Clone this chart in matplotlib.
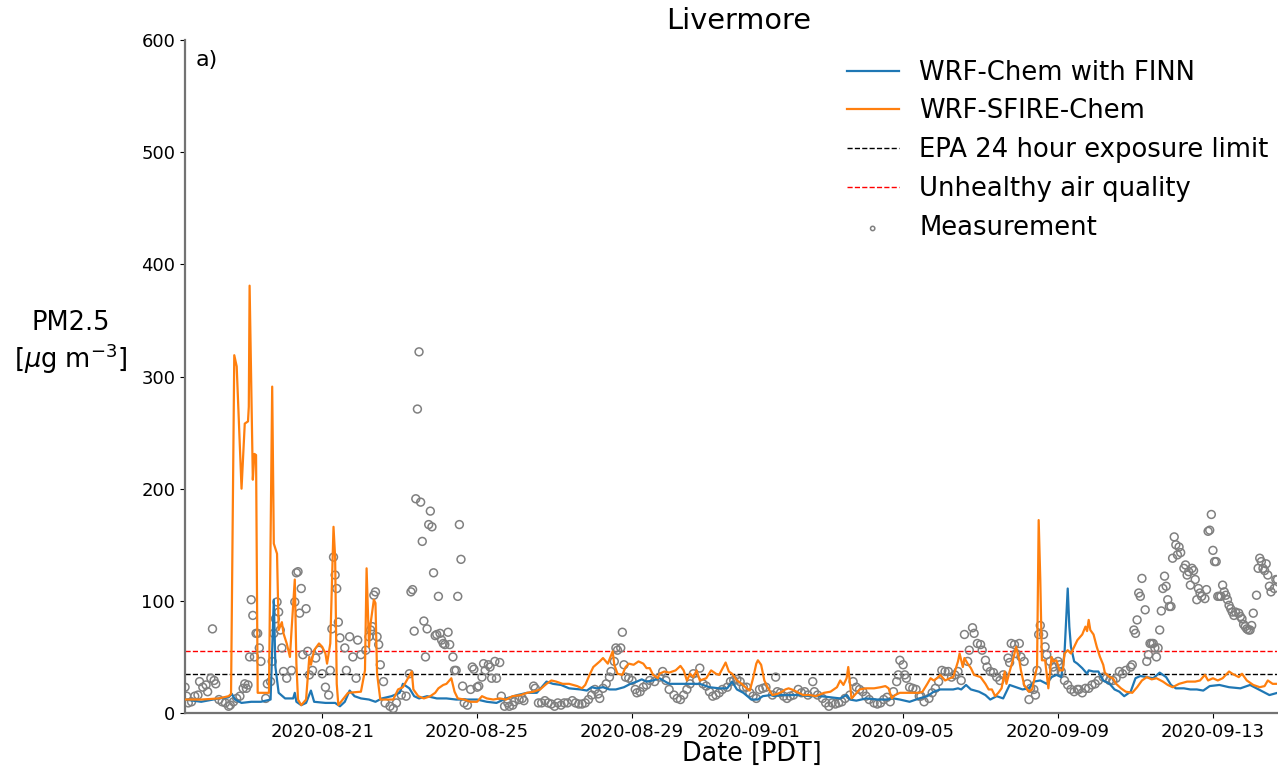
#!/usr/bin/env python3

import matplotlib
matplotlib.use('Agg')
import matplotlib.pyplot as plt
import matplotlib.dates as mdates
import numpy as np
import pandas as pd

# hours after 2020-08-17 11:00 PDT
start = pd.Timestamp('2020-08-17 11:00')
end = pd.Timestamp('2020-09-14 16:00')

finn_hours = [0, 10, 21, 27, 29, 31, 35, 41, 47, 53, 55, 56, 58, 62, 67, 68, 69, 72, 75, 78,
	80, 87, 93, 96, 99, 102, 105, 109, 114, 118, 122, 128, 133, 135, 139, 142, 145, 150, 156, 162,
	168, 175, 181, 187, 193, 199, 206, 212, 218, 224, 228, 233, 238, 245, 249, 252, 255, 259, 263, 267,
	272, 276, 280, 283, 286, 290, 294, 300, 307, 311, 315, 319, 325, 331, 336, 339, 342, 346, 351, 355,
	358, 363, 365, 369, 375, 381, 387, 394, 400, 406, 410, 412, 416, 422, 429, 435, 439, 443, 449, 455,
	460, 464, 468, 472, 476, 479, 481, 484, 487, 492, 496, 499, 503, 507, 511, 515, 519, 523, 526, 530,
	534, 537, 540, 543, 545, 547, 548, 549, 551, 553, 556, 559, 560, 563, 566, 569, 573, 576, 579, 582,
	586, 589, 592, 596, 600, 604, 608, 611, 614, 619, 623, 627, 631, 635, 641, 647, 654, 660, 664, 668,
	672, 677]
finn_pm = [12, 10, 13, 14, 17, 12, 9, 10, 10, 12, 101, 41, 18, 13, 13, 18, 10, 7, 9, 20,
	10, 9, 9, 6, 10, 20, 15, 13, 12, 10, 13, 15, 18, 26, 22, 15, 13, 15, 13, 13,
	12, 12, 12, 10, 9, 13, 16, 18, 18, 28, 26, 25, 22, 21, 20, 23, 22, 23, 21, 21,
	23, 26, 28, 30, 28, 29, 31, 26, 26, 26, 26, 26, 23, 22, 22, 28, 21, 18, 12, 12,
	15, 16, 15, 16, 16, 16, 15, 15, 14, 13, 16, 12, 11, 13, 12, 12, 13, 12, 10, 13,
	15, 19, 21, 21, 21, 22, 21, 25, 21, 19, 16, 12, 15, 13, 25, 23, 21, 22, 28, 29,
	26, 32, 34, 32, 53, 111, 77, 59, 46, 44, 40, 35, 38, 37, 37, 29, 26, 21, 19, 15,
	19, 31, 33, 32, 31, 36, 32, 25, 22, 22, 21, 21, 20, 24, 25, 23, 22, 25, 22, 19,
	16, 18]

sfire_hours = [0, 10, 21, 27, 28.5, 30.5, 32, 35, 37, 39, 39.5, 40, 42, 43, 44, 45, 52, 54, 55, 57,
	58, 60, 61, 63, 65, 66, 68, 69, 70, 72, 75, 77, 78, 80, 83, 85, 87, 88, 90, 92,
	93, 94, 95, 101, 109, 111.5, 112.5, 114, 115, 117, 118, 119, 121, 129, 132, 135, 138.5, 140.5, 141.5, 144.5,
	148, 152, 155, 157, 160, 162, 165, 166, 167, 169, 173, 177, 181, 184, 187, 191, 195, 199, 203, 208,
	212, 216, 220, 224, 227, 230, 234, 238, 243, 246, 248, 251, 253, 257, 259, 262, 265, 266, 268, 271,
	273, 275, 278, 281, 284, 286, 288, 290, 293, 294, 297, 300, 304, 307, 309, 311, 313, 315, 317, 319,
	323, 326, 329, 331, 335, 337, 339, 342, 345, 348, 350, 352, 354, 355, 357, 359, 361, 364, 367, 370,
	372, 374, 376, 379, 383, 387, 391, 396, 400, 404, 406, 408, 410, 411, 413, 415, 418, 422, 427, 431,
	434, 436, 438, 440, 443, 447, 451, 455, 457, 460, 462, 464, 466, 468, 471, 474, 476, 479, 480, 482,
	483, 485, 487, 489, 493, 496, 498, 500, 502, 504, 506, 508, 509, 511, 513, 515, 517, 518, 520, 523,
	525, 527, 528, 529, 530, 531, 533, 535, 537, 538, 540, 542, 544, 545, 547, 549, 551, 553, 556, 558,
	559, 560, 561, 563, 565, 567, 569, 570, 573, 575, 577, 580, 583, 587, 590, 593, 596, 599, 602, 606,
	609, 612, 616, 621, 626, 629, 632, 634, 637, 640, 643, 647, 649, 653, 655, 658, 662, 666, 669, 671,
	674, 677]
sfire_pm = [12, 12, 13, 15, 17, 319, 309, 200, 258, 260, 273, 381, 208, 231, 230, 18, 18, 291, 151, 142,
	74, 81, 71, 62, 50, 74, 119, 44, 12, 7, 12, 50, 43, 56, 62, 59, 53, 44, 62, 166,
	139, 26, 7, 18, 19, 38, 129, 59, 80, 101, 98, 35, 12, 12, 21, 23, 32, 37, 21, 15,
	13, 15, 18, 22, 25, 26, 31, 25, 19, 13, 12, 10, 10, 15, 13, 12, 13, 12, 15, 16,
	18, 19, 21, 26, 29, 28, 26, 26, 24, 22, 25, 35, 41, 46, 49, 44, 55, 43, 35, 34,
	41, 44, 43, 46, 44, 40, 40, 34, 31, 35, 37, 36, 38, 42, 38, 29, 35, 32, 38, 29,
	31, 38, 35, 34, 45, 37, 35, 29, 26, 22, 20, 31, 44, 47, 43, 29, 23, 16, 17, 19,
	21, 22, 21, 19, 16, 16, 15, 18, 19, 23, 29, 25, 31, 41, 13, 16, 21, 22, 22, 23,
	24, 22, 13, 16, 18, 18, 18, 18, 19, 26, 31, 29, 31, 34, 29, 31, 32, 46, 53, 41,
	49, 44, 40, 34, 32, 26, 21, 21, 15, 18, 22, 37, 26, 37, 47, 59, 47, 38, 25, 19,
	21, 35, 41, 172, 119, 47, 47, 22, 50, 46, 47, 38, 38, 53, 56, 53, 59, 65, 70, 77,
	73, 83, 74, 70, 59, 50, 43, 36, 32, 31, 26, 22, 19, 18, 23, 29, 32, 30, 31, 28,
	25, 23, 26, 28, 28, 29, 34, 29, 31, 29, 31, 37, 35, 32, 35, 29, 25, 23, 24, 29,
	26, 26]

meas_hours = [0, 1, 2, 4, 6, 8, 9, 11, 13, 14, 16, 17, 18, 19, 21, 23, 25, 27, 28, 30,
	32, 34, 36, 37, 38, 39, 40, 41, 42, 43, 44, 45, 46, 47, 50, 51, 53, 54, 55, 56,
	57, 58, 59, 60, 61, 63, 66, 68, 69, 70, 71, 72, 73, 75, 76, 77, 79, 81, 83, 85,
	87, 89, 90, 91, 92, 93, 94, 95, 96, 99, 100, 102, 104, 106, 107, 109, 112, 114, 115, 116,
	117, 118, 119, 120, 121, 123, 124, 127, 129, 131, 134, 137, 139, 140, 141, 142, 143, 144, 145, 146,
	147, 148, 149, 150, 151, 152, 153, 154, 155, 156, 157, 158, 159, 160, 161, 163, 164, 166, 167, 168,
	169, 170, 171, 172, 173, 175, 177, 178, 179, 181, 182, 184, 185, 186, 188, 189, 190, 192, 193, 195,
	196, 198, 200, 201, 203, 204, 207, 209, 210, 216, 217, 219, 221, 223, 225, 227, 229, 231, 233, 235,
	237, 240, 242, 244, 246, 248, 250, 252, 254, 256, 257, 259, 261, 263, 264, 266, 267, 268, 270, 271,
	272, 273, 275, 277, 279, 280, 282, 284, 286, 288, 291, 294, 296, 298, 300, 303, 305, 307, 309, 311,
	313, 315, 317, 319, 321, 323, 325, 327, 329, 331, 333, 336, 338, 340, 342, 344, 346, 348, 350, 352,
	354, 356, 358, 360, 364, 366, 367, 369, 371, 373, 375, 377, 380, 382, 384, 386, 389, 390, 392, 395,
	397, 399, 401, 403, 405, 407, 409, 412, 414, 416, 418, 420, 422, 424, 427, 429, 431, 433, 435, 437,
	439, 441, 442, 443, 445, 446, 447, 449, 451, 453, 455, 456, 458, 461, 463, 465, 467, 469, 471, 473,
	475, 477, 479, 481, 483, 485, 486, 488, 489, 491, 493, 494, 496, 497, 499, 501, 503, 505, 507, 510,
	511, 512, 514, 515, 517, 518, 520, 522, 523, 524, 526, 527, 528, 529, 530, 532, 533, 534, 536, 538,
	539, 541, 542, 543, 545, 547, 549, 551, 553, 554, 556, 558, 560, 562, 564, 566, 569, 571, 573, 575,
	577, 579, 581, 583, 586, 587, 588, 589, 590, 591, 592, 593, 595, 596, 597, 598, 599, 600, 601, 602,
	603, 604, 605, 606, 607, 608, 609, 610, 611, 612, 613, 614, 615, 616, 617, 619, 620, 621, 622, 623,
	624, 625, 626, 627, 628, 629, 630, 632, 633, 634, 635, 636, 637, 638, 639, 640, 641, 642, 643, 644,
	645, 646, 647, 648, 649, 650, 651, 653, 654, 655, 656, 657, 658, 659, 660, 661, 662, 664, 665, 666,
	667, 668, 669, 670, 671, 672, 673, 675, 676, 677]
meas_pm = [23, 15, 9, 10, 15, 16, 28, 23, 25, 19, 31, 75, 29, 26, 12, 10, 9, 6, 7, 10,
	13, 15, 22, 26, 22, 25, 50, 101, 87, 50, 71, 71, 58, 46, 13, 26, 28, 46, 71, 84,
	99, 90, 74, 58, 37, 31, 38, 99, 125, 126, 89, 111, 52, 93, 55, 34, 38, 49, 56, 35,
	23, 16, 38, 75, 139, 123, 111, 81, 67, 58, 38, 68, 50, 31, 65, 52, 56, 68, 74, 77,
	105, 108, 68, 61, 43, 28, 9, 6, 4, 9, 16, 15, 35, 108, 110, 73, 191, 271, 322, 188,
	153, 82, 50, 75, 168, 180, 166, 125, 69, 70, 104, 71, 65, 62, 61, 72, 61, 50, 38, 38,
	104, 168, 137, 24, 9, 7, 21, 41, 39, 23, 24, 32, 44, 38, 43, 41, 31, 46, 31, 45,
	15, 6, 9, 6, 7, 10, 12, 13, 11, 24, 22, 9, 9, 11, 9, 8, 6, 9, 7, 9,
	9, 11, 9, 8, 8, 9, 12, 16, 21, 17, 13, 22, 26, 32, 37, 46, 58, 56, 58, 72,
	43, 32, 31, 29, 21, 18, 19, 23, 25, 29, 28, 32, 37, 29, 21, 16, 13, 12, 16, 21,
	26, 35, 29, 40, 26, 24, 19, 15, 16, 18, 21, 23, 28, 29, 30, 28, 23, 23, 18, 15,
	13, 21, 22, 23, 16, 32, 19, 18, 15, 13, 15, 16, 21, 18, 19, 16, 28, 19, 16, 13,
	9, 6, 9, 8, 9, 10, 13, 16, 28, 23, 21, 19, 15, 12, 9, 8, 9, 12, 14, 10,
	19, 28, 34, 47, 43, 34, 31, 23, 22, 21, 15, 15, 10, 13, 18, 22, 28, 38, 37, 37,
	32, 34, 37, 29, 70, 46, 56, 76, 71, 62, 61, 56, 47, 41, 37, 36, 32, 29, 34, 49,
	45, 62, 61, 53, 62, 50, 46, 26, 12, 22, 21, 16, 38, 70, 78, 70, 59, 52, 46, 41,
	37, 46, 43, 37, 29, 25, 21, 19, 21, 21, 18, 22, 22, 25, 26, 29, 32, 31, 29, 29,
	31, 37, 35, 38, 41, 43, 74, 71, 83, 107, 104, 120, 92, 46, 52, 62, 62, 62, 58, 50,
	58, 74, 91, 111, 122, 113, 101, 95, 95, 138, 157, 150, 141, 148, 143, 129, 132, 123, 126, 114,
	129, 127, 119, 101, 111, 107, 104, 102, 110, 162, 163, 177, 145, 135, 135, 104, 104, 104, 114, 108,
	105, 101, 96, 93, 90, 87, 90, 89, 86, 84, 79, 77, 75, 74, 74, 78, 89, 105, 129, 138,
	135, 129, 127, 133, 123, 113, 108, 111, 119, 119]

epa_limit = 35
unhealthy = 55


def to_dates(hours):
	return start + pd.to_timedelta(np.array(hours, dtype=float), unit='h')


plt.rcParams['font.family'] = 'DejaVu Sans'
fig = plt.figure(figsize=(12.78, 7.67), dpi=100)
ax = fig.add_axes([0.1448, 0.0704, 0.8548, 0.8774])

ax.plot(to_dates(finn_hours), finn_pm, color='#1f77b4', linewidth=1.6, label='WRF-Chem with FINN', zorder=3)
ax.plot(to_dates(sfire_hours), sfire_pm, color='#ff7f0e', linewidth=1.6, label='WRF-SFIRE-Chem', zorder=4)
ax.axhline(epa_limit, color='black', linestyle='--', linewidth=1, label='EPA 24 hour exposure limit', zorder=2)
ax.axhline(unhealthy, color='red', linestyle='--', linewidth=1, label='Unhealthy air quality', zorder=2)
ax.scatter(to_dates(meas_hours), meas_pm, s=32, facecolors='none', edgecolors='grey',
	linewidths=1.1, label='Measurement', zorder=2.5)

ax.set_xlim(start, end)
ax.set_ylim(0, 600)
ax.xaxis.set_major_locator(mdates.DayLocator(bymonthday=[1, 5, 9, 13, 17, 21, 25, 29]))
ax.xaxis.set_major_formatter(mdates.DateFormatter('%Y-%m-%d'))
ax.tick_params(labelsize=13)

for side in ['top', 'right']:
	ax.spines[side].set_visible(False)
for side in ['left', 'bottom']:
	ax.spines[side].set_color('0.45')
	ax.spines[side].set_linewidth(1.6)

ax.set_title('Livermore', fontsize=20.7, x=0.507, pad=8)
ax.set_xlabel('Date [PDT]', fontsize=18.4)
ax.xaxis.set_label_coords(0.519, -0.041)
ax.set_ylabel('PM2.5\n[$\\mu$g m$^{-3}$]', fontsize=18.5, rotation=0, va='center', ha='center')
ax.yaxis.set_label_coords(-0.105, 0.55)
ax.text(0.01, 0.985, 'a)', transform=ax.transAxes, fontsize=16, va='top', ha='left')

ax.legend(loc='upper right', fontsize=18.6, frameon=False, markerscale=0.55,
	bbox_to_anchor=(1.006, 0.994), borderaxespad=0.2, labelspacing=0.5)

plt.savefig('out.png', dpi=100)
